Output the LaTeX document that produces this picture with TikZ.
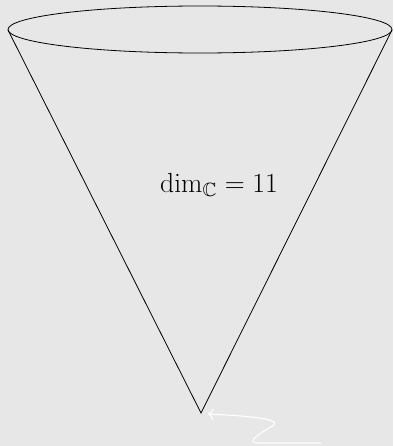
\documentclass[tikz,border=0pt]{standalone}
\usepackage{amsmath,amssymb}
\usetikzlibrary{arrows.meta}
\definecolor{paper}{RGB}{231,231,231}

\begin{document}
\begin{tikzpicture}[x=0.75pt, y=-0.75pt]
  % background sheet
  \fill[paper] (0,0) rectangle (393,446);
  \useasboundingbox (0,0) rectangle (393,446);
  \coordinate (apex) at (201,413);
  \coordinate (rimL) at (8,30);
  \coordinate (rimR) at (392,30);
  % cone
  \draw[line width=0.6pt] (200,29.5) ellipse [x radius=192, y radius=23.5];
  \draw[line width=0.6pt] (rimL) -- (apex) -- (rimR);
  \node (dim) at (219,185) {\huge $\dim_{\mathbb{C}} = 11$};
  % squiggle
  \draw[white, line width=0.8pt, -{To[length=4pt]}] (321,443) -- (258,443)
    .. controls (244,443) and (262,432) .. (274,425)
    .. controls (280,419) and (250,416) .. (208,414);
\end{tikzpicture}
\end{document}
